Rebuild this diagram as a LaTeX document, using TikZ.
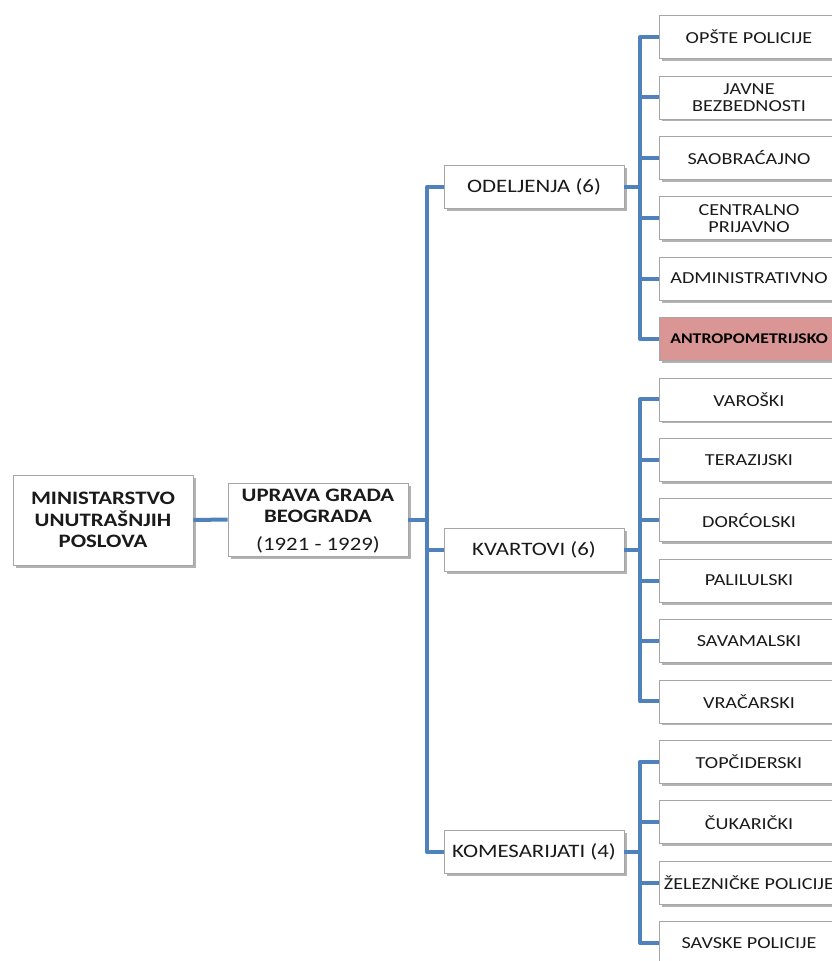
\documentclass[tikz,border=0pt]{standalone}
\usepackage{fontspec}
\setmainfont{Carlito}[FakeStretch=1.2]
\usetikzlibrary{shadows}
\definecolor{lineblue}{HTML}{4F81BD}
\definecolor{boxgray}{HTML}{A6A6A6}
\definecolor{redfill}{HTML}{D99694}
\definecolor{txt}{HTML}{1A1A1A}
\begin{document}
\begin{tikzpicture}[x=1pt,y=-1pt,
 box/.style={draw=boxgray, line width=0.8pt, fill=white, rectangle, minimum width=180pt,
   inner sep=0pt, align=center, text=txt,
   drop shadow={shadow xshift=2.5pt, shadow yshift=-2.5pt, fill=black, opacity=0.3}},
 rbox/.style={box, minimum height=43pt, font=\fontsize{16.8}{17}\selectfont},
 mbox/.style={box, minimum height=43pt, font=\fontsize{19}{21}\selectfont},
 redbox/.style={rbox, fill=redfill, text=black, font=\fontsize{14.8}{17}\selectfont\bfseries},
 link/.style={draw=lineblue, line width=4pt, line join=round}]
\useasboundingbox (0,0) rectangle (831,961);

% left part
\node[box, minimum height=90pt, font=\fontsize{19}{21.5}\selectfont\bfseries] (min) at (103,520)
  {MINISTARSTVO\\UNUTRAŠNJIH\\POSLOVA};
\node[box, minimum height=73pt, font=\fontsize{19}{21.5}\selectfont] (upr) at (318,519.5) {};
\node[font=\fontsize{19}{21.5}\selectfont, text=txt, align=center, inner sep=0pt, anchor=north]
  (uprt) at (318,488.5) {\textbf{UPRAVA GRADA}\\\textbf{BEOGRADA}\\[6pt](1921 - 1929)};

% middle
\node[mbox] (odel) at (534,187) {ODELJENJA (6)};
\node[mbox] (kva) at (534,550) {KVARTOVI (6)};
\node[mbox] (kom) at (534,852) {KOMESARIJATI (4)};

% right
\node[rbox] (o1) at (749,37) {OPŠTE POLICIJE};
\node[rbox] (o2) at (749,97.4) {JAVNE\\BEZBEDNOSTI};
\node[rbox] (o3) at (749,157.8) {SAOBRAĆAJNO};
\node[rbox] (o4) at (749,218.2) {CENTRALNO\\PRIJAVNO};
\node[rbox] (o5) at (749,278.6) {ADMINISTRATIVNO};
\node[redbox] (o6) at (749,339) {ANTROPOMETRIJSKO};
\node[rbox] (k1) at (749,399.4) {VAROŠKI};
\node[rbox] (k2) at (749,459.8) {TERAZIJSKI};
\node[rbox] (k3) at (749,520.2) {DORĆOLSKI};
\node[rbox] (k4) at (749,580.6) {PALILULSKI};
\node[rbox] (k5) at (749,641) {SAVAMALSKI};
\node[rbox] (k6) at (749,701.4) {VRAČARSKI};
\node[rbox] (c1) at (749,761.8) {TOPČIDERSKI};
\node[rbox] (c2) at (749,822.2) {ČUKARIČKI};
\node[rbox] (c3) at (749,882.6) {ŽELEZNIČKE POLICIJE};
\node[rbox] (c4) at (749,943) {SAVSKE POLICIJE};

\coordinate (tr) at (427,0);
\coordinate (st) at (640,0);

\draw[link] (min.east) -- (upr.west);
\draw[link] (upr.east) -- (upr.east -| tr);
\draw[link] (odel.west) -- (odel.west -| tr) -- (kom.west -| tr) -- (kom.west);
\draw[link] (kva.west) -- (kva.west -| tr);

\draw[link] (odel.east) -- (odel.east -| st);
\draw[link] (o1.west) -- (o1.west -| st) -- (o6.west -| st) -- (o6.west);
\foreach \n in {o2,o3,o4,o5} \draw[link] (\n.west) -- (\n.west -| st);

\draw[link] (kva.east) -- (kva.east -| st);
\draw[link] (k1.west) -- (k1.west -| st) -- (k6.west -| st) -- (k6.west);
\foreach \n in {k2,k3,k4,k5} \draw[link] (\n.west) -- (\n.west -| st);

\draw[link] (kom.east) -- (kom.east -| st);
\draw[link] (c1.west) -- (c1.west -| st) -- (c4.west -| st) -- (c4.west);
\foreach \n in {c2,c3} \draw[link] (\n.west) -- (\n.west -| st);
\end{tikzpicture}
\end{document}
